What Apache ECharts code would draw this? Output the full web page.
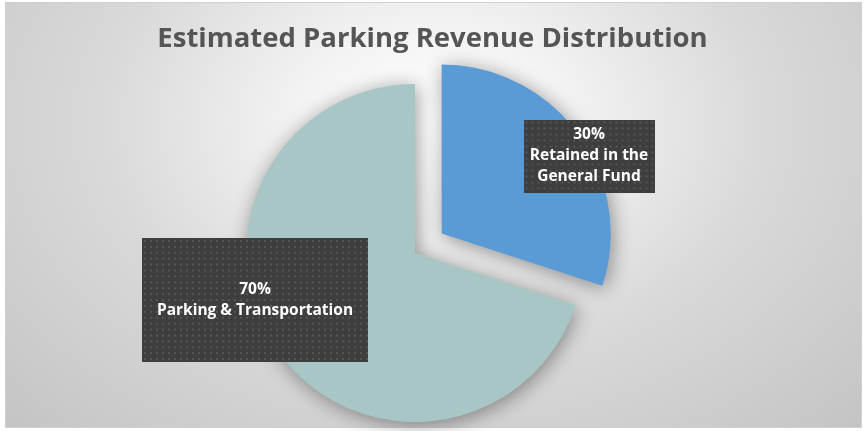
<!DOCTYPE html>
<html>
<head>
<meta charset="utf-8">
<script src="https://cdn.jsdelivr.net/npm/echarts@6/dist/echarts.min.js"></script>
<style>
html, body { margin: 0; background: #fff; }
#frame {
    position: absolute; left: 5px; top: 2px; width: 857px; height: 426px;
    box-sizing: border-box; border: 1px solid #d0d0d0;
    background: radial-gradient(ellipse farthest-corner at 50% 28%, #ffffff 0%, #f3f3f3 22%, #d9d9d9 55%, #c4c4c4 100%);
}
#echarts { position: absolute; left: 0; top: 0; width: 865px; height: 431px; }
</style>
</head>
<body>
<div id="frame"></div>
<div id="echarts"></div>
<script>
var names = ['Retained in the\nGeneral Fund', 'Parking & Transportation'];
var shares = [30, 70];
var colors = ['#5B9BD5', '#A9C6C6'];

// dark dotted label boxes
function dots(w, h) {
    var c = document.createElement('canvas');
    c.width = w; c.height = h;
    var g = c.getContext('2d');
    g.fillStyle = '#3e3e3e';
    g.fillRect(0, 0, w, h);
    g.fillStyle = '#555555';
    for (var y = 2; y < h; y += 6) {
        for (var x = 2; x < w; x += 6) {
            g.fillRect(x, y, 2, 2);
        }
    }
    return c;
}

var boxes = [
    {x: 589, y: 156, w: 131, h: 73, pad: 5},
    {x: 255, y: 300, w: 226, h: 126, pad: 41}
];

// the exploded slice is drawn by a second copy of the pie moved out along its bisector
var pieR = 169, explode = 33;
var mid = (90 - shares[0] / 2 / 100 * 360) * Math.PI / 180;
var centers = [
    [415 + explode * Math.cos(mid), 253 - explode * Math.sin(mid)],
    [415, 253]
];

function pieSeries(k) {
    return {
        type: 'pie',
        center: centers[k],
        radius: pieR,
        startAngle: 90,
        clockwise: true,
        emphasis: { disabled: true },
        labelLine: { show: false },
        label: {
            formatter: '{d}%\n{b}',
            color: '#fff',
            fontFamily: 'Open Sans',
            fontWeight: 'bold',
            fontSize: 15.5,
            lineHeight: 21,
            align: 'center',
            shadowBlur: 4,
            shadowOffsetX: 2,
            shadowOffsetY: 2,
            shadowColor: 'rgba(0,0,0,0.45)'
        },
        labelLayout: function (params) {
            var b = boxes[params.dataIndex];
            return { x: b.x, y: b.y, align: 'center', verticalAlign: 'middle' };
        },
        data: shares.map(function (v, i) {
            var b = boxes[i];
            var on = i === k;
            return {
                value: v,
                name: names[i],
                itemStyle: on ? {
                    color: colors[i],
                    shadowBlur: 20,
                    shadowColor: 'rgba(0,0,0,0.4)',
                    shadowOffsetX: 2,
                    shadowOffsetY: 3
                } : { color: 'rgba(0,0,0,0)' },
                label: {
                    show: on,
                    width: b.w,
                    padding: [b.pad, 0],
                    backgroundColor: { image: dots(b.w, b.h) }
                }
            };
        })
    };
}

var myChart = echarts.init(document.getElementById('echarts'));

option = {
    animation: false,
    title: {
        text: 'Estimated Parking Revenue Distribution',
        left: 'center',
        top: 20,
        textStyle: {
            fontFamily: 'Open Sans',
            fontWeight: 'bold',
            fontSize: 27.5,
            color: '#555555'
        }
    },
    series: [pieSeries(1), pieSeries(0)]
};

myChart.setOption(option);
</script>
</body>
</html>
